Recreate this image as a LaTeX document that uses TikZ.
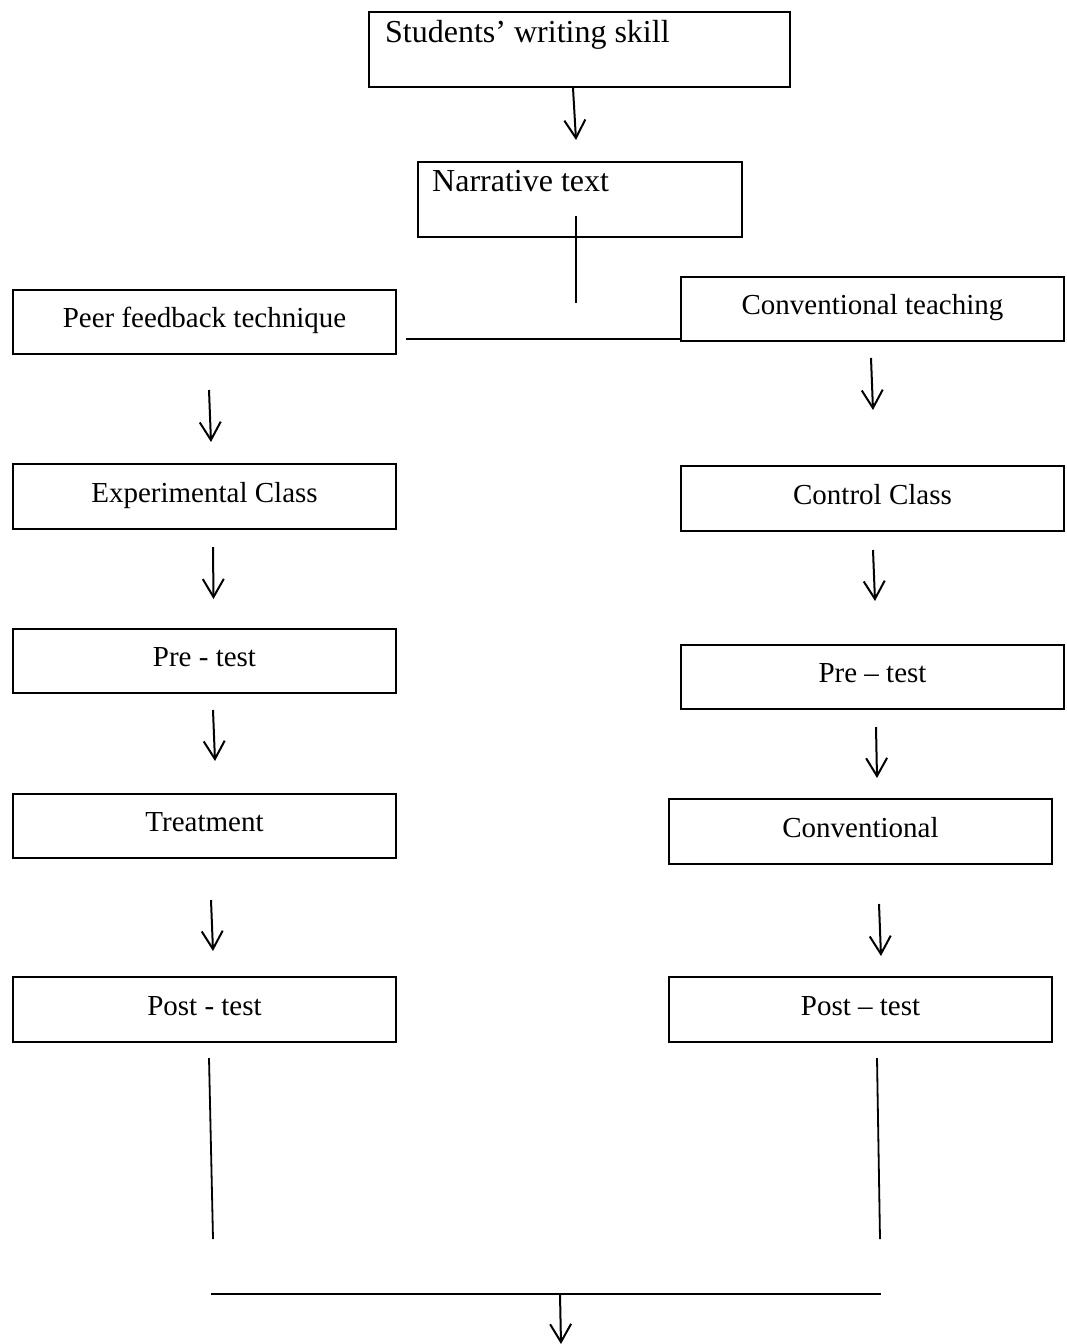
\documentclass[tikz,border=0pt]{standalone}
\usepackage{fontspec}
\setmainfont{Liberation Serif}
\usetikzlibrary{arrows.meta}
\begin{document}
\begin{tikzpicture}[x=1pt,y=-1pt,
  frame/.style={draw, line width=1.3pt, inner sep=0pt, outer sep=0pt},
  box/.style={frame, minimum width=383pt, minimum height=64pt,
    font=\fontsize{29pt}{34pt}\selectfont, text height=19pt, text depth=8pt},
  toptext/.style={anchor=base west, inner sep=0pt, font=\fontsize{32pt}{38pt}\selectfont},
  arr/.style={line width=2pt, -{Straight Barb[length=18pt,width=21pt]}},
  ln/.style={line width=1.8pt}]
\useasboundingbox (0,0) rectangle (1066,1344);

% top boxes
\node[frame, minimum width=421pt, minimum height=75pt] (stud) at (579.5,49.5) {};
\node[toptext] (studtext) at (385,42) {Students’ writing skill};
\node[frame, minimum width=324pt, minimum height=75pt] (narr) at (580,199.5) {};
\node[toptext] (narrtext) at (432,191) {Narrative text};

% left column
\node[box] (peer)  at (204.5,322)    {Peer feedback technique};
\node[box, minimum height=65pt] (exp)   at (204.5,496.5)  {Experimental Class};
\node[box] (preL)  at (204.5,661)    {Pre - test};
\node[box] (treat) at (204.5,826)    {Treatment};
\node[box, minimum height=65pt] (postL) at (204.5,1009.5) {Post - test};

% right column
\node[box] (convt) at (872.5,309)    {Conventional teaching};
\node[box, minimum height=65pt] (ctrl)  at (872.5,498.5)  {Control Class};
\node[box] (preR)  at (872.5,677)    {Pre – test};
\node[box, minimum height=65pt] (conv)  at (860.5,831.5)  {Conventional};
\node[box, minimum height=65pt] (postR) at (860.5,1009.5) {Post – test};

% connector end points
\coordinate (a1s) at (573,88);   \coordinate (a1e) at (576,140);
\coordinate (nls) at (576,216);  \coordinate (nle) at (576,303);
\coordinate (hms) at (406,339);  \coordinate (hme) at (682,339);
\coordinate (l1s) at (209,390);  \coordinate (l1e) at (211,442);
\coordinate (r1s) at (871,358);  \coordinate (r1e) at (873,410);
\coordinate (l2s) at (213,547);  \coordinate (l2e) at (213.5,599);
\coordinate (r2s) at (873,550);  \coordinate (r2e) at (875,601);
\coordinate (l3s) at (213,710);  \coordinate (l3e) at (215,761);
\coordinate (r3s) at (876,727);  \coordinate (r3e) at (877,778);
\coordinate (l4s) at (211,900);  \coordinate (l4e) at (213,951);
\coordinate (r4s) at (879,904);  \coordinate (r4e) at (881,956);
\coordinate (lvs) at (209,1058); \coordinate (lve) at (213,1239);
\coordinate (rvs) at (877,1058); \coordinate (rve) at (880,1239);
\coordinate (hbs) at (211,1294); \coordinate (hbe) at (881,1294);
\coordinate (fas) at (560,1294); \coordinate (fae) at (561,1344);

% connectors
\draw[arr] (a1s) -- (a1e);
\draw[line width=1.5pt] (nls) -- (nle);
\draw[ln] (hms) -- (hme);
\draw[arr] (l1s) -- (l1e);
\draw[arr] (r1s) -- (r1e);
\draw[arr] (l2s) -- (l2e);
\draw[arr] (r2s) -- (r2e);
\draw[arr] (l3s) -- (l3e);
\draw[arr] (r3s) -- (r3e);
\draw[arr] (l4s) -- (l4e);
\draw[arr] (r4s) -- (r4e);
\draw[ln] (lvs) -- (lve);
\draw[ln] (rvs) -- (rve);
\draw[ln] (hbs) -- (hbe);
\draw[arr] (fas) -- (fae);
\end{tikzpicture}
\end{document}
